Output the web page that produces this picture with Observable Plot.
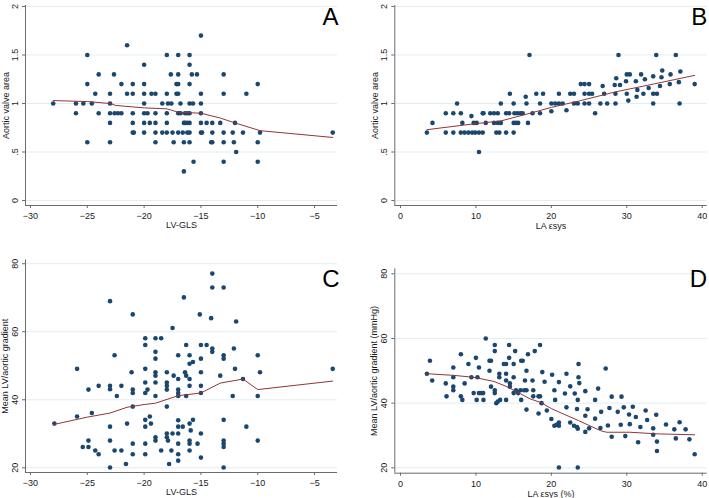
<!DOCTYPE html>
<html>
<head>
<meta charset="utf-8">
<script src="https://cdn.jsdelivr.net/npm/d3@7"></script>
<script src="https://cdn.jsdelivr.net/npm/@observablehq/plot@0.6"></script>
<style>
  html, body { margin: 0; padding: 0; background: #fff; }
  #wrap { position: relative; width: 709px; height: 498px; background: #fff; overflow: hidden; }
  .panel { position: absolute; width: 354px; height: 249px; }
</style>
</head>
<body>
<div id="wrap">
  <div class="panel" id="pA" style="left:0;top:0"></div>
  <div class="panel" id="pB" style="left:355px;top:0"></div>
  <div class="panel" id="pC" style="left:0;top:249px"></div>
  <div class="panel" id="pD" style="left:355px;top:249px"></div>
</div>
<script>
// ---------- Tick values ----------
const glsTicks = [-30, -25, -20, -15, -10, -5];
const laTicks = [0, 10, 20, 30, 40];
const avaTicks = [0, 0.5, 1, 1.5, 2];
const gradTicks = [20, 40, 60, 80];

// ---------- Panel A: LV-GLS vs aortic valve area ----------
const aGls = [-28,-26,-26,-25.35,-25,-25,-25,-24.6,-24.3,-24,-24,-23,-23,-23,-23,-23,-22.65,-22.6,-22.3,-22,-22,-21.5,-21.5,-21,-21,-21,-21,-21,-20.9,
  -20,-20,-20,-20,-20,-20,-20,-19.7,-19.5,-19.35,-19,-19,-19,-19,-19,-18.4,-18.4,-18,-18,-18,-18,-18,-17.9,-17.65,-17.6,-17.5,-17.4,-17.15,
  -17,-17,-17,-17.15,-17,-17,-16.8,-17,-16.8,-16.5,-16.6,-16.5,-16,-16,-16,-16,-16,-16,-16,-16,-15.65,-16.5,-15.8,-15.35,-15.7,
  -15,-15,-15,-15,-15,-15,-14.9,-16.4,-16.2,-16.2,-16.4,-16.2,-14.5,-14,-13.3,-12,-14,-13,-12.2,-11.3,-9.8,-14.1,-14,-13,-12.1,-10,
  -11.9,-13,-10,-13,-13,-11,-10,-3.4];
const aAva = [1.0,1.0,0.9,1.0,1.5,1.2,0.6,1.0,1.1,1.3,0.9,1.1,1.0,0.9,0.8,0.6,1.3,0.9,0.9,0.9,1.2,1.6,1.1,1.2,1.1,0.9,0.8,0.7,0.7,
  1.4,1.2,1.1,1.0,0.9,0.8,0.7,0.9,0.8,1.1,1.1,0.9,0.8,0.7,0.6,1.0,0.7,1.5,1.1,0.9,0.8,0.7,1.0,1.3,1.0,0.7,0.6,1.2,
  1.5,1.3,1.2,1.1,1.1,0.9,0.9,0.7,1.0,0.6,0.7,0.8,1.5,1.4,1.2,1.0,0.9,0.8,0.7,0.6,0.4,0.3,1.3,1.3,1.0,
  1.7,1.1,1.0,0.9,0.8,0.7,0.7,0.8,0.8,0.7,0.9,0.9,0.8,0.8,0.8,0.8,0.7,0.7,0.7,0.7,0.7,0.6,0.6,0.6,0.6,0.6,
  0.5,0.4,0.4,1.3,1.1,1.1,1.2,0.7];
const aFitX = [-28,-25,-23,-22.5,-20,-18,-17,-15,-13.3,-12,-9.8,-3.4];
const aFitY = [1.03,1.02,1.0,0.98,0.955,0.945,0.91,0.9,0.85,0.8,0.72,0.65];

// ---------- Panel B: LA strain vs aortic valve area ----------
const bLa = [3.5,4.24,6,6,7,7,7.5,8,8,8.2,8.5,9,9.4,9.5,9.7,10.1,9.9,10.4,10.9,10.4,10.9,11,11.3,11.9,12.4,12.4,12.7,12.9,12.9,13.1,13.3,13.3,
  14,14,14.4,14.5,15,15,15,15.1,15.3,15.6,15.5,15.9,16.2,16.6,16.7,16.9,17.1,17.5,18,18.5,
  18.5,18.9,20,20,20.5,21,21,21.5,22,22.5,23,23,23.5,23.9,24.4,25,24.4,25,25.4,24.4,25,25.8,26.5,26.8,27,27.4,
  28.4,28.6,28.5,28.5,28.9,29.1,29.9,30,30.4,30,30.2,31.2,31.3,31.4,31.9,32.4,32.2,32.9,33.5,33.5,33.5,33.9,34,34.4,34.6,34.7,
  35.7,35.8,36.5,36.9,37,37.1,39];
const bAva = [0.7,0.8,0.9,0.7,0.9,0.7,1.0,0.9,0.7,0.8,0.7,0.7,0.87,0.7,0.8,0.8,0.7,0.7,0.7,0.5,0.9,0.9,0.8,0.9,0.9,0.8,0.7,0.9,0.8,0.7,1.0,0.8,
  0.7,0.9,0.9,1.1,1.0,0.8,0.7,0.9,0.8,0.8,0.9,0.9,0.9,1.07,1.0,0.8,1.5,0.9,1.1,1.0,
  0.9,1.1,0.92,1.0,1.0,1.0,1.1,1.0,0.93,1.1,1.1,1.0,1.0,1.2,1.2,1.2,1.1,1.1,1.1,1.0,1.0,0.9,1.0,1.18,1.1,1.0,
  1.19,1.26,1.1,1.0,1.5,1.19,1.23,1.3,1.3,1.1,1.03,1.23,1.07,1.14,1.3,1.25,1.1,1.16,1.28,1.1,1.0,1.5,1.1,1.18,1.27,1.34,
  1.2,1.3,1.5,1.22,1.0,1.33,1.2];
const bFitX = [3.5,9.7,13.3,17.2,20,23.9,28.5,33.5,39];
const bFitY = [0.73,0.79,0.82,0.9,0.96,1.03,1.12,1.2,1.29];

// ---------- Panel C: LV-GLS vs mean gradient ----------
const cGls = [-27.9,-25.9,-25.9,-25.4,-24.9,-24.9,-24.9,-24.6,-24.3,-24,-24,-23,-23,-23,-23,-23,-23,-22.6,-22.6,-22.4,-22,-22,-21.6,-21.5,-21.1,
  -21,-21,-21,-21,-21,-21,-19.9,-19.9,-19.9,-19.9,-19.9,-19.9,-19.9,-19.9,-19.9,-19.7,-19.5,-19.4,-19,-19,-19,-19,-19,-19,-19,-19,-19,
  -18.5,-18.5,-18,-18,-18,-18,-18,-18,-18,-17.9,-17.8,-17.6,-17.5,-17.5,-17.4,-17,-17,-17,-17,-17,-17,-17,-17,-17,-17,-17,
  -16.6,-16.5,-16.4,-16.3,-16.3,-16.3,-16,-16,-16,-16,-16,-16,-16,-15.9,-15.7,-15.7,-15.3,-15.1,-15,-15,-15,-15,-15,-15,
  -14,-14,-13,-14.1,-11.9,-14.5,-14,-14,-12.1,-13,-13,-10,-16,-12,-13.3,-9.8,-3.4,-15,-11.3,-12.2,-10,-13,-11,-13,-13,-13,-10,-13];
const cGrad = [33,49.1,35.1,26.1,28,26.1,43,36.1,25.1,44.1,24,69,44.1,43.1,32.1,28,20.1,25.1,53.1,41.1,44.1,25.1,21.1,33,48.1,
  38,65.1,43,42,27.1,24,58.1,56.1,49.1,45.1,42,34.1,32.1,27.1,24,43,35.1,33,58.1,54.1,52.1,48.1,47.1,45.1,41.1,29,28,
  58.1,25.1,48.1,45.1,44.1,43,38,30.1,29,28,21.1,25.1,61.1,30.1,47.1,53.1,46.1,43,42,41.1,34,32.1,30.1,27.1,24,22.1,
  32.1,70.1,48.1,56.1,47.1,41.1,53.1,46.1,44.1,33,28,27.1,25.1,31,51.1,34.1,27.1,65.1,56.1,52.1,48.1,44.1,30.1,23,
  77.1,73,73,64,63,56.1,55.1,54.1,55.1,53.1,52.1,53.1,50.6,49.1,47.1,48.1,49.1,42,46.1,41.1,41.1,34.1,32.1,28,27.1,26.1,28,20.1];
const cFitX = [-28,-25,-23,-21.5,-20,-19,-17,-15,-13.3,-11.3,-10,-3.4];
const cFitY = [32.7,34.9,36.1,37.8,38.6,39,41.2,42,44.9,46.1,43,45.5];

// ---------- Panel D: LA strain vs mean gradient ----------
const dLa = [3.5,3.9,4.2,6,6.1,7,7,7,7,8,8,8.2,8.5,9,9.4,9.7,10,10.1,10.2,10.4,10.4,10.7,11,10.96,11.3,11.8,11.8,12,12,12.5,12.5,12.5,12.5,12.7,12.9,
  13.1,13.1,13.2,13.7,14,14,14,14,14.4,14.4,14.5,14.5,15,15,15,15.2,15.3,15.6,15.9,16,16.2,16,16.4,16.5,16.7,16.7,16.7,16.9,
  17.5,17.6,17.6,17.8,18.3,18.5,18.5,18.3,18.7,18.8,19.1,19.4,20,20.1,20.4,20.5,20.4,20.7,21,21,21,21,21.8,22,22,22.5,22.5,23,23.1,
  23.4,23.4,23.6,23.6,23.5,23.7,23.5,23.5,24.5,24.5,24.5,24.8,25,25.8,25.8,26.2,26.5,26.6,27.2,27.5,27.7,28,28,28.8,29.2,29.3,29.6,29.8,
  30.3,30.4,30.8,31.2,31.5,31.8,32.5,32.7,33.5,33.5,33.9,34,34,35.2,36.3,36.5,37,37.8,38.3,39];
const dGrad = [49.1,53.1,47,46.1,42.1,51,48,45.1,44,55.1,42.1,41,46.1,52.1,48,43.1,54,41,48,51,43.1,43.1,41,43.1,60,50,53.1,53.1,45.1,56.1,58,44,43.1,40,40.5,
  49.1,48,41,52.1,52.1,49.1,47,41,58,54,46.1,45.1,52.1,48,43.1,56.1,44,43.1,44,53.1,53.1,41,44,47,50,44,38,55.1,
  47,44,42.1,56.1,36.8,58,42.1,42.1,40,49.6,46.6,37.7,35.1,48.8,44,41,33,33.3,46.5,34,33,20.1,43,49.1,38.7,45.2,34,33,43,
  32.6,38.2,52.1,48,41,46.2,20.1,32.1,43.7,36.1,31.1,38.1,32.2,35.2,41,44.5,32.3,37.3,50.7,33.1,38.5,42,29.6,37.3,33.3,42,38.7,29.8,
  36.5,33.5,38.9,35.7,27.9,32.6,37.7,34.8,32.2,30.2,36.4,28.1,25.2,33.4,31.9,29.1,34.1,31.9,28.8,24.2];
const dFitX = [3.5,7,9.7,12.4,14,15.9,17.2,18.6,20,23.6,26.5,27.3,30.4,34,39];
const dFitY = [49.1,48.6,48,46.7,45.2,42.9,41.3,40.2,38.3,34.6,31.5,31,31,30.5,30.2];

// ---------- Styling ----------
const NAVY = "#1a476f";
const MAROON = "#90353b";
const GRID = "#e3edf0";
const AXIS = "#6b6b6b";
const FONT = "'Liberation Sans', Arial, Helvetica, sans-serif";

const zip = (xs, ys) => xs.map((x, i) => ({x, y: ys[i]}));
const fmtAva = d => d === 0 ? "0" : String(d).replace(/^0\./, ".");

function panel({el, pts, fit, xDomain, yDomain, xTicks, yTicks, yFmt, margins, xTitle, yTitle, yTitleDx, xTitleDy, letter, letterDx, letterDy}) {
  const chart = Plot.plot({
    width: 354,
    height: 249,
    marginLeft: margins[0],
    marginRight: margins[1],
    marginTop: margins[2],
    marginBottom: margins[3],
    style: {fontFamily: FONT, fontSize: "9px", background: "#fff", color: "#1a1a1a", overflow: "visible"},
    x: {domain: xDomain},
    y: {domain: yDomain},
    marks: [
      Plot.gridY(yTicks, {stroke: GRID, strokeOpacity: 1, strokeWidth: 1}),
      Plot.ruleX([xDomain[0]], {stroke: AXIS, strokeWidth: 1}),
      Plot.ruleY([yDomain[0]], {stroke: AXIS, strokeWidth: 1}),
      Plot.axisX(xTicks, {tickSize: 3, tickPadding: 4, stroke: AXIS, label: null, fontSize: 9}),
      Plot.axisY(yTicks, {tickSize: 3, tickPadding: 5, tickRotate: -90, stroke: AXIS, label: null, tickFormat: yFmt, fontSize: 9}),
      Plot.dot(zip(pts[0], pts[1]), {x: "x", y: "y", r: 2.3, fill: NAVY, stroke: null}),
      Plot.line(zip(fit[0], fit[1]), {x: "x", y: "y", stroke: MAROON, strokeWidth: 1}),
      Plot.text([xTitle], {frameAnchor: "bottom", dy: xTitleDy, lineAnchor: "middle", text: d => d, fontSize: 9, fill: "#1a1a1a"}),
      Plot.text([yTitle], {frameAnchor: "left", dx: yTitleDx, rotate: -90, lineAnchor: "middle", textAnchor: "middle", text: d => d, fontSize: 9, fill: "#1a1a1a"}),
      Plot.text([letter], {frameAnchor: "top-right", dx: letterDx, dy: letterDy, textAnchor: "end", lineAnchor: "top", text: d => d, fontSize: 24, fill: "#000"})
    ]
  });
  document.getElementById(el).appendChild(chart);
}

panel({el: "pA", pts: [aGls, aAva], fit: [aFitX, aFitY], xDomain: [-30.44, -2.98], yDomain: [-0.0515, 2.0103],
  xTicks: glsTicks, yTicks: avaTicks, yFmt: fmtAva, margins: [25, 17, 5, 44],
  xTitle: "LV-GLS", yTitle: "Aortic valve area", yTitleDx: -19, xTitleDy: 20, letter: "A", letterDx: 1, letterDy: 2});

panel({el: "pB", pts: [bLa, bAva], fit: [bFitX, bFitY], xDomain: [-0.756, 40.66], yDomain: [-0.0515, 2.0103],
  xTicks: laTicks, yTicks: avaTicks, yFmt: fmtAva, margins: [39.3, 2.3, 5, 44],
  xTitle: "LA εsys", yTitle: "Aortic valve area", yTitleDx: -20, xTitleDy: 21, letter: "B", letterDx: 0, letterDy: 2});

panel({el: "pC", pts: [cGls, cGrad], fit: [cFitX, cFitY], xDomain: [-30.44, -2.98], yDomain: [18.62, 81.1],
  xTicks: glsTicks, yTicks: gradTicks, yFmt: d => String(d), margins: [25, 17, 10.5, 26],
  xTitle: "LV-GLS", yTitle: "Mean LV/aortic gradient", yTitleDx: -20, xTitleDy: 20, letter: "C", letterDx: 2, letterDy: 10});

panel({el: "pD", pts: [dLa, dGrad], fit: [dFitX, dFitY], xDomain: [-0.756, 40.66], yDomain: [18.33, 81.55],
  xTicks: laTicks, yTicks: gradTicks, yFmt: d => String(d), margins: [39.3, 2.3, 19.3, 25.3],
  xTitle: "LA εsys (%)", yTitle: "Mean LV/aortic gradient (mmHg)", yTitleDx: -21, xTitleDy: 21, letter: "D", letterDx: 0, letterDy: 1.5});
</script>
</body>
</html>
